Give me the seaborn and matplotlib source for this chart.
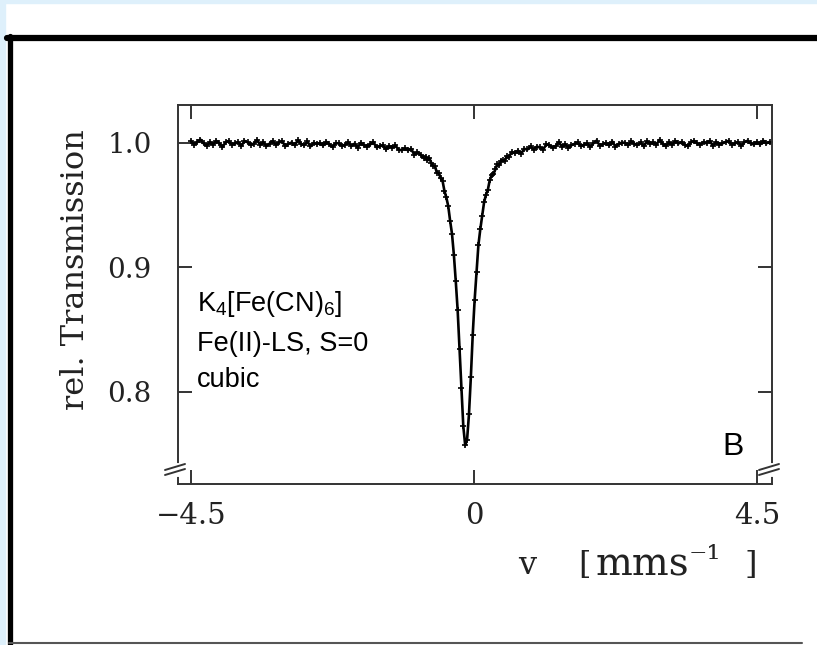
import matplotlib
matplotlib.use("Agg")
import matplotlib.pyplot as plt
import seaborn as sns
from matplotlib.lines import Line2D
from matplotlib.patches import Rectangle

# Moessbauer spectrum: velocity (mm/s) and rel. transmission
v_left = [-4.50, -4.45, -4.40, -4.35, -4.30, -4.25, -4.20, -4.15, -4.10, -4.05,
          -4.00, -3.95, -3.90, -3.85, -3.80, -3.75, -3.70, -3.65, -3.60, -3.55,
          -3.50, -3.45, -3.40, -3.35, -3.30, -3.25, -3.20, -3.15, -3.10, -3.05,
          -3.00, -2.95, -2.90, -2.85, -2.80, -2.75, -2.70, -2.65, -2.60, -2.55,
          -2.50, -2.45, -2.40, -2.35, -2.30, -2.25, -2.20, -2.15, -2.10, -2.05,
          -2.00, -1.95, -1.90, -1.85, -1.80, -1.75, -1.70, -1.65, -1.60, -1.55,
          -1.50, -1.45, -1.40, -1.35, -1.30, -1.25, -1.20, -1.15, -1.10, -1.05,
          -1.00, -0.95, -0.90, -0.85, -0.80]
t_left = [1.0017, 0.9987, 1.0007, 1.0027, 0.9997, 0.9977, 1.0007, 0.9987, 1.0017, 0.9997,
          0.9967, 1.0006, 1.0016, 0.9986, 0.9996, 1.0006, 0.9976, 1.0016, 1.0006, 0.9986,
          0.9995, 1.0025, 0.9985, 1.0005, 0.9975, 0.9995, 1.0015, 0.9985, 1.0004, 1.0014,
          0.9974, 0.9994, 1.0003, 0.9983, 1.0023, 0.9993, 0.9982, 1.0012, 0.9972, 1.0001,
          0.9991, 1.0000, 0.9980, 1.0009, 0.9989, 0.9968, 0.9998, 0.9997, 0.9976, 0.9986,
          1.0005, 0.9975, 0.9994, 0.9963, 1.0002, 0.9981, 0.9970, 0.9988, 1.0007, 0.9965,
          0.9973, 0.9981, 0.9949, 0.9976, 0.9963, 0.9980, 0.9946, 0.9942, 0.9957, 0.9941,
          0.9954, 0.9906, 0.9927, 0.9905, 0.9881]

v_dip = [-0.77, -0.74, -0.71, -0.68, -0.65, -0.62, -0.59, -0.56, -0.53, -0.50,
         -0.47, -0.44, -0.41, -0.38, -0.35, -0.32, -0.29, -0.26, -0.23, -0.20,
         -0.17, -0.14, -0.11, -0.08, -0.05, -0.02, 0.01, 0.04, 0.07, 0.10,
         0.13, 0.16, 0.19, 0.22, 0.25, 0.28, 0.31, 0.34, 0.37, 0.40,
         0.43, 0.46, 0.49, 0.52]
t_dip = [0.9891, 0.9860, 0.9877, 0.9841, 0.9814, 0.9814, 0.9759, 0.9761, 0.9717, 0.9695,
         0.9615, 0.9562, 0.9494, 0.9376, 0.9271, 0.9102, 0.8890, 0.8657, 0.8346, 0.8031,
         0.7723, 0.7572, 0.7616, 0.7819, 0.8119, 0.8461, 0.8737, 0.8962, 0.9179, 0.9306,
         0.9411, 0.9522, 0.9584, 0.9623, 0.9700, 0.9739, 0.9751, 0.9788, 0.9831, 0.9820,
         0.9857, 0.9861, 0.9854, 0.9894]

v_right = [0.55, 0.60, 0.65, 0.70, 0.75, 0.80, 0.85, 0.90, 0.95, 1.00,
           1.05, 1.10, 1.15, 1.20, 1.25, 1.30, 1.35, 1.40, 1.45, 1.50,
           1.55, 1.60, 1.65, 1.70, 1.75, 1.80, 1.85, 1.90, 1.95, 2.00,
           2.05, 2.10, 2.15, 2.20, 2.25, 2.30, 2.35, 2.40, 2.45, 2.50,
           2.55, 2.60, 2.65, 2.70, 2.75, 2.80, 2.85, 2.90, 2.95, 3.00,
           3.05, 3.10, 3.15, 3.20, 3.25, 3.30, 3.35, 3.40, 3.45, 3.50,
           3.55, 3.60, 3.65, 3.70, 3.75, 3.80, 3.85, 3.90, 3.95, 4.00,
           4.05, 4.10, 4.15, 4.20, 4.25, 4.30, 4.35, 4.40, 4.45, 4.50,
           4.55, 4.60, 4.65, 4.70]
t_right = [0.9884, 0.9927, 0.9918, 0.9938, 0.9915, 0.9952, 0.9948, 0.9973, 0.9947, 0.9970,
           0.9964, 0.9947, 0.9989, 0.9981, 0.9963, 0.9975, 1.0007, 0.9968, 0.9990, 0.9961,
           0.9982, 0.9993, 1.0004, 0.9975, 0.9986, 0.9997, 0.9968, 0.9998, 1.0019, 0.9979,
           0.9990, 1.0000, 0.9981, 1.0011, 0.9971, 0.9992, 1.0002, 1.0002, 0.9983, 1.0013,
           0.9993, 0.9984, 1.0004, 0.9974, 1.0014, 0.9994, 1.0005, 0.9985, 1.0025, 0.9995,
           0.9975, 1.0005, 0.9986, 1.0016, 0.9996, 1.0006, 0.9986, 0.9976, 1.0006, 1.0016,
           0.9996, 0.9986, 1.0007, 0.9997, 1.0017, 0.9977, 1.0007, 0.9987, 0.9997, 1.0007,
           1.0017, 0.9987, 0.9997, 1.0007, 0.9977, 1.0007, 1.0017, 0.9997, 0.9988, 1.0008,
           0.9988, 1.0018, 0.9998, 1.0008]

x_ticks = [-4.5, 0, 4.5]
x_ticklabels = ["\u22124.5", "0", "4.5"]
y_ticks = [0.8, 0.9, 1.0]
y_ticklabels = ["0.8", "0.9", "1.0"]
notes = ["K$_4$[Fe(CN)$_6$]", "Fe(II)-LS, S=0", "cubic"]
panel = "B"

sns.set_theme(style="ticks")
plt.rcParams["font.family"] = ["DejaVu Serif"]
plt.rcParams["mathtext.default"] = "regular"

W, H = 817, 645
fig = plt.figure(figsize=(W / 100, H / 100), dpi=100)
fig.patch.set_facecolor("white")

# page frame around the panel
fig.patches.append(Rectangle((0, 1 - 3 / H), 1, 3 / H, transform=fig.transFigure,
                             color="#def0fb", zorder=0))
fig.patches.append(Rectangle((0, 0), 5 / W, 1, transform=fig.transFigure,
                             color="#def0fb", zorder=0))
fig.add_artist(Line2D([7 / W, 1], [1 - 37.5 / H] * 2, color="black", lw=4.5))
fig.add_artist(Line2D([9.5 / W] * 2, [0, 1 - 35.5 / H], color="black", lw=3.8))
fig.add_artist(Line2D([9 / W, 802 / W], [1 - 642.5 / H] * 2, color="#555555", lw=1.5))

ax = fig.add_axes([178 / W, 1 - 484 / H, 594 / W, 379 / H])
v = v_left + v_dip + v_right
t = t_left + t_dip + t_right
sns.lineplot(x=v, y=t, ax=ax, color="black", lw=1.9, marker="+", markersize=5,
             markeredgewidth=1.2, markeredgecolor="black", estimator=None, sort=False)

ax.set_xlim(-4.707, 4.739)
ax.set_ylim(0.726, 1.0305)
ax.set_xticks(x_ticks, x_ticklabels)
ax.set_yticks(y_ticks, y_ticklabels)
ax.tick_params(direction="in", length=10, width=1.4, color="#333333",
               top=True, right=True, labelcolor="#222222")
ax.tick_params(axis="x", pad=13, labelsize=21)
ax.tick_params(axis="y", pad=19, labelsize=20)
for s in ax.spines.values():
    s.set_linewidth(1.4)
    s.set_color("#333333")
ax.set_xlabel("")
ax.set_ylabel("")

# axis break marks on both vertical axes
for x0 in (0, 1):
    ax.plot([x0, x0], [9 / 379, 19 / 379], transform=ax.transAxes, color="white",
            lw=3, clip_on=False, zorder=5)
    for y0 in (9, 14):
        ax.plot([x0 - 13 / 594, x0 + 7 / 594], [y0 / 379, (y0 + 6) / 379],
                transform=ax.transAxes, color="#333333", lw=1.4, clip_on=False, zorder=6)

sans = ["Liberation Sans", "DejaVu Sans"]
for txt, yb in zip(notes, [0.4559, 0.3510, 0.2560]):
    ax.text(0.032, yb, txt, transform=ax.transAxes, family=sans, fontsize=19.5,
            va="baseline", ha="left", color="black")
ax.text(0.916, 0.0765, panel, transform=ax.transAxes, family=sans, fontsize=23,
        va="baseline", ha="left", color="black")

fig.text(76 / W, 1 - 270 / H, "rel. Transmission", rotation=90, ha="center",
         va="center", fontsize=23, color="#222222")
fig.text(527 / W, 1 - 565 / H, "v", ha="center", va="center", fontsize=23,
         color="#222222")
fig.text(578 / W, 1 - 565 / H, "[", ha="left", va="center", fontsize=23,
         color="#222222")
fig.text(596 / W, 1 - 565 / H, "mms", ha="left", va="center", fontsize=28,
         color="#222222")
fig.text(689 / W, 1 - 560 / H, "\u207b\u00b9", ha="left", va="center",
         fontsize=25, color="#222222")
fig.text(757 / W, 1 - 565 / H, "]", ha="right", va="center", fontsize=23,
         color="#222222")

fig.savefig("out.png", dpi=100)
